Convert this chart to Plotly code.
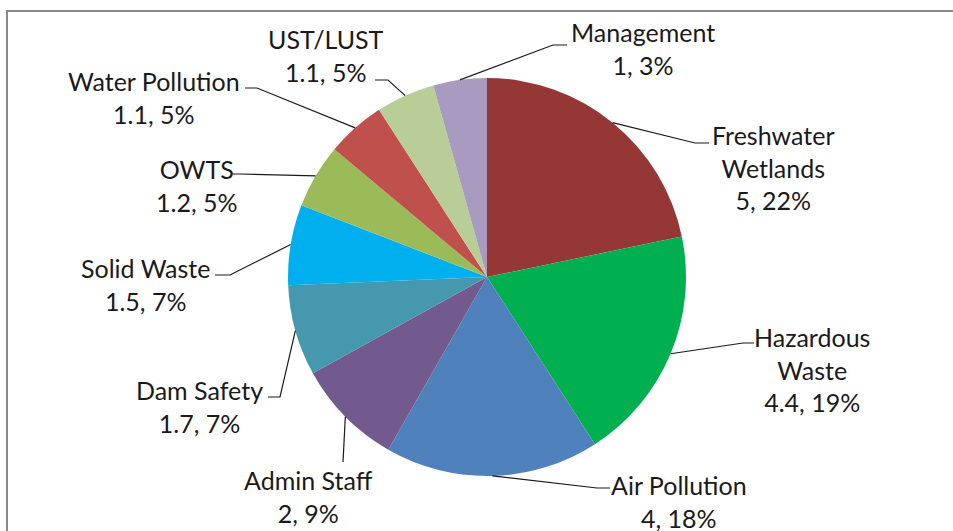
import math
import plotly.graph_objects as go

# ---- data ----
categories = ["Freshwater<br>Wetlands", "Hazardous<br>Waste", "Air Pollution", "Admin Staff",
              "Dam Safety", "Solid Waste", "OWTS", "Water Pollution", "UST/LUST", "Management"]
values = [5, 4.4, 4, 2, 1.7, 1.5, 1.2, 1.1, 1.1, 1]
value_labels = ["5", "4.4", "4", "2", "1.7", "1.5", "1.2", "1.1", "1.1", "1"]
pct_labels = ["22%", "19%", "18%", "9%", "7%", "7%", "5%", "5%", "5%", "3%"]
colors = ["#953735", "#00B050", "#4F81BD", "#725A8E", "#4598AE",
          "#00B0EE", "#9BBB59", "#C0504D", "#B8CE96", "#A99BBF"]

# ---- layout (pixels) ----
W, H = 953, 531
CX, CY, R = 487, 277, 199
# label block centers
label_pos = [(773, 168), (812, 369), (679, 501), (308, 496), (199, 406),
             (145, 284), (197, 185), (154, 97), (326, 56), (643, 49)]
# leader elbow and end points
leader_pts = [[(695, 143), (709, 143)], [(743, 343), (754, 343)], [(597, 488), (610, 488)],
              [(343, 462)], [(280, 397), (268, 397)], [(230, 275), (215, 275)],
              [(240, 174), (232, 174)], [(257, 88), (245, 88)], [(388, 80), (375, 80)],
              [(553, 45), (567, 45)]]

def px(x):
    return x / W

def py(y):
    return 1 - y / H

fig = go.Figure(go.Pie(
    labels=categories, values=values, sort=False, direction="clockwise", rotation=0,
    marker=dict(colors=colors, line=dict(width=0)),
    textinfo="none", hoverinfo="label+value+percent", showlegend=False,
    domain=dict(x=[px(CX - R), px(CX + R)], y=[py(CY + R), py(CY - R)]),
))

total = sum(values)
cum = 0
shapes = []
annotations = []
for i, v in enumerate(values):
    mid = (cum + v / 2) / total * 2 * math.pi
    cum += v
    sx = CX + R * math.sin(mid)
    sy = CY - R * math.cos(mid)
    pts = [(sx, sy)] + leader_pts[i]
    path = "M " + " L ".join(f"{px(a):.5f},{py(b):.5f}" for a, b in pts)
    shapes.append(dict(type="path", xref="paper", yref="paper", path=path,
                       line=dict(color="#1a1a1a", width=1.2)))
    lx, ly = label_pos[i]
    annotations.append(dict(
        x=px(lx), y=py(ly), xref="paper", yref="paper", showarrow=False,
        text=f"{categories[i]}<br>{value_labels[i]}, {pct_labels[i]}",
        xanchor="center", yanchor="middle", align="center",
        font=dict(family="Lato", size=25, color="#1a1a1a")))

# chart frame (cropped at right and bottom)
shapes.append(dict(type="rect", xref="paper", yref="paper",
                   x0=px(7), x1=1.05, y0=-0.05, y1=py(11),
                   line=dict(color="#898989", width=2)))

fig.update_layout(
    width=W, height=H, margin=dict(l=0, r=0, t=0, b=0),
    paper_bgcolor="white", plot_bgcolor="white",
    shapes=shapes, annotations=annotations,
)
fig.write_html("out.html", post_script="document.body.style.margin='0';",
               config={"displayModeBar": False})
